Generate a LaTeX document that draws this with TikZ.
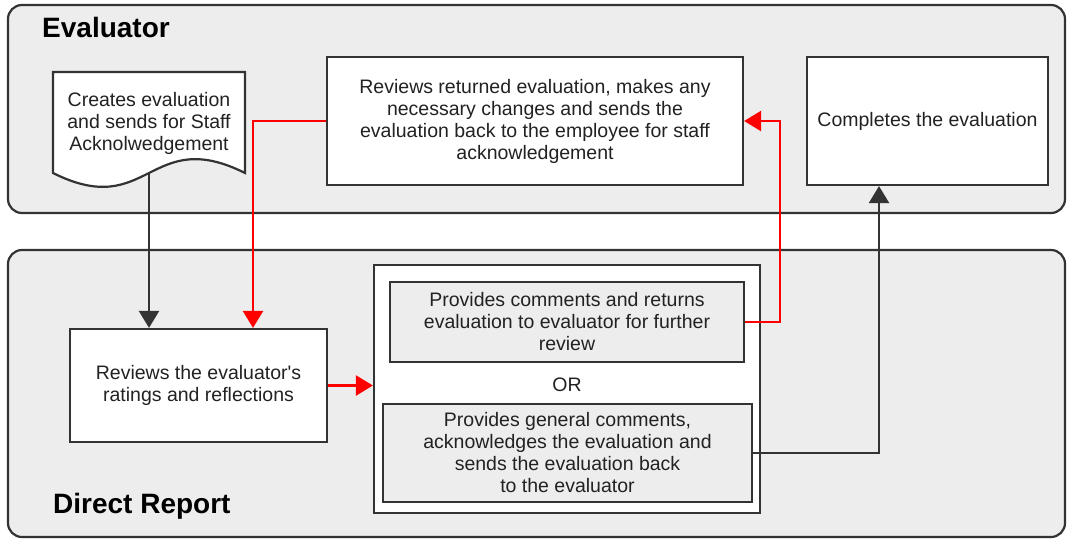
\documentclass[tikz,border=0pt]{standalone}
\usepackage{fontspec}
\setmainfont{Liberation Sans}
\usepackage{tikz}
\usetikzlibrary{arrows.meta,calc}

\definecolor{linec}{HTML}{333333}
\definecolor{lanec}{HTML}{EDEDED}
\definecolor{textc}{HTML}{222222}
\definecolor{redc}{HTML}{FF0000}

\tikzset{
  lane/.style={draw=linec, fill=lanec, line width=2.2pt, rounded corners=14pt},
  lanetitle/.style={inner sep=0pt, anchor=base west, text=black, font=\fontsize{28}{32}\selectfont\bfseries},
  taskbox/.style={draw=linec, fill=white, line width=2.2pt, align=center, text=textc,
    font=\fontsize{19.5}{22}\selectfont, inner sep=0pt},
  graybox/.style={taskbox, fill=lanec},
  plaintext/.style={align=center, text=textc, font=\fontsize{19.5}{22}\selectfont, inner sep=0pt},
  flowdark/.style={draw=linec, line width=2.4pt, -{Triangle[length=17pt,width=20pt]}},
  flowred/.style={draw=redc, line width=2.4pt, -{Triangle[length=17pt,width=20pt]}}
}

\begin{document}
\begin{tikzpicture}[x=1pt,y=-1pt]
\useasboundingbox (0,0) rectangle (1067,541);

% Swimlanes
\draw[lane] (8,5) rectangle (1065,213);
\draw[lane] (8,250) rectangle (1065,537);
\node[lanetitle] (evaltitle) at (42,37) {Evaluator};
\node[lanetitle] (reporttitle) at (53,513) {Direct Report};

% Document shape
\draw[draw=linec, fill=white, line width=2.2pt] (53,72) -- (245,72) -- (245,173)
  .. controls (149,125) and (149,221) .. (53,173) -- cycle;
\node[plaintext] (create) at (149,123) {Creates evaluation\\and sends for Staff\\Acknolwedgement};
\coordinate (createbot) at (149,173);

% Evaluator tasks
\node[taskbox, minimum width=416pt, minimum height=128pt] (returned) at (535,121)
  {Reviews returned evaluation, makes any\\necessary changes and sends the\\evaluation back to the employee for staff\\acknowledgement};
\node[taskbox, minimum width=241pt, minimum height=128pt] (complete) at (927.5,121)
  {Completes the evaluation};

% Direct report tasks
\node[taskbox, minimum width=257pt, minimum height=113pt] (ratings) at (198.5,385.5)
  {Reviews the evaluator\textquotesingle s\\ratings and reflections};
\node[taskbox, minimum width=386pt, minimum height=248pt] (options) at (567,389) {};
\node[graybox, minimum width=354pt, minimum height=80pt] (provide) at (567,322)
  {Provides comments and returns\\evaluation to evaluator for further\\review};
\node[plaintext] (or) at (567,385) {OR};
\node[graybox, minimum width=369pt, minimum height=98pt] (ack) at (567.5,453)
  {Provides general comments,\\acknowledges the evaluation and\\sends the evaluation back\\to the evaluator};

% Connectors
\draw[flowdark] (createbot) -- (createbot |- ratings.north);
\draw[flowred] (returned.west) -| ([xshift=54.5pt]ratings.north);
\draw[flowred] (ratings.east) -- (ratings.east -| options.west);
\draw[flowred] (provide.east) -- ++(35,0) |- (returned.east);
\draw[flowdark] (ack.east) -| ([xshift=-48.5pt]complete.south);

\end{tikzpicture}
\end{document}
